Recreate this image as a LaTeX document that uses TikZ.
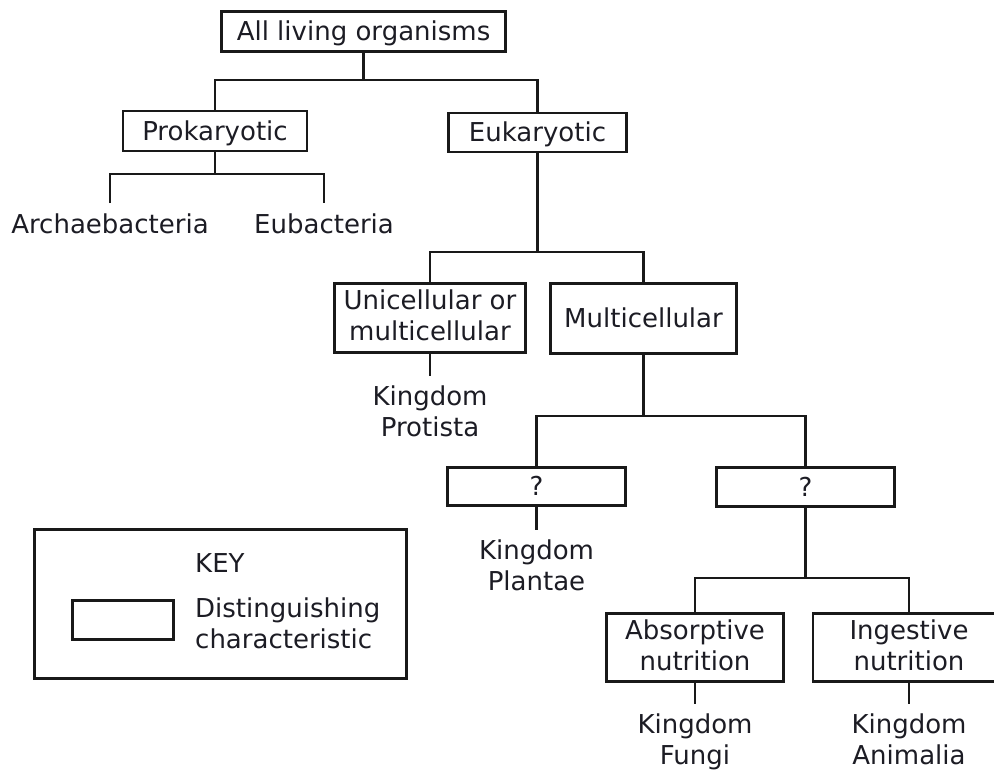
\documentclass[tikz,border=0pt]{standalone}
\usepackage{fontspec}
\setmainfont{DejaVu Sans}
\definecolor{ink}{RGB}{28,28,36}
\definecolor{linec}{RGB}{25,25,25}
\newcommand{\oneL}[1]{\rule{0pt}{18pt}\smash{#1}}
\newcommand{\twoL}[2]{\rule{0pt}{14pt}\smash{#1}\\\smash{#2}}
\newcommand{\leafL}[2]{\smash{#1}\\\smash{#2}}
\tikzset{
  box/.style={draw=linec, line width=2.8pt, inner sep=0pt, align=center, text=ink,
    font=\fontsize{26}{31}\selectfont},
  leaf/.style={inner sep=0pt, align=center, text=ink, font=\fontsize{26}{31}\selectfont},
  link/.style={draw=linec, line width=2.6pt},
}
\begin{document}
\begin{tikzpicture}[x=1pt,y=-1pt]
\useasboundingbox (0,0) rectangle (994,774);
\clip (0,0) rectangle (994,774);
% boxes
\node[box, minimum width=284pt, minimum height=40pt] (all) at (363.5,31.5) {\oneL{All living organisms}};
\node[box, minimum width=184pt, minimum height=40pt] (prok) at (215,131) {\oneL{Prokaryotic}};
\node[box, minimum width=178pt, minimum height=39pt] (euk) at (537.5,132.5) {\oneL{Eukaryotic}};
\node[box, minimum width=191pt, minimum height=69pt] (uni) at (430,318) {\twoL{Unicellular or}{multicellular}};
\node[box, minimum width=186pt, minimum height=70pt] (multi) at (643.5,318.5) {\oneL{Multicellular}};
\node[box, minimum width=178pt, minimum height=38pt] (q1) at (536.5,486.5) {\oneL{?}};
\node[box, minimum width=178pt, minimum height=39pt] (q2) at (805.5,487) {\oneL{?}};
\node[box, minimum width=177pt, minimum height=68pt] (abs) at (695,647.5) {\twoL{Absorptive}{nutrition}};
\node[box, minimum width=200pt, minimum height=68pt] (ing) at (913,647.5) {};
\node[leaf] (ingt) at (909,647.5) {\twoL{Ingestive}{nutrition}};
% leaves
\node[leaf, anchor=north] (arch) at (110,233) {\smash{Archaebacteria}};
\node[leaf, anchor=north] (eub) at (324,233) {\smash{Eubacteria}};
\node[leaf, anchor=north] (prot) at (430,405) {\leafL{Kingdom}{Protista}};
\node[leaf, anchor=north] (plan) at (536.5,559) {\leafL{Kingdom}{Plantae}};
\node[leaf, anchor=north] (fung) at (695,733) {\leafL{Kingdom}{Fungi}};
\node[leaf, anchor=north] (anim) at (909,733) {\leafL{Kingdom}{Animalia}};
% junctions
\coordinate (j1) at (363.5,80);
\coordinate (j2) at (215,174);
\coordinate (j3) at (537.5,252);
\coordinate (j4) at (643.5,416);
\coordinate (j5) at (805.5,578);
% connectors
\draw[link] (all.south) -- (j1);
\draw[link] (prok.north) |- (j1) -| (euk.north);
\draw[link] (prok.south) -- (j2);
\draw[link] ([yshift=30pt]arch.north) |- (j2) -| ([yshift=30pt]eub.north);
\draw[link] (euk.south) -- (j3);
\draw[link] (uni.north) |- (j3) -| (multi.north);
\draw[link] (uni.south) -- ([yshift=29pt]prot.north);
\draw[link] (multi.south) -- (j4);
\draw[link] (q1.north) |- (j4) -| (q2.north);
\draw[link] (q1.south) -- ([yshift=29pt]plan.north);
\draw[link] (q2.south) -- (j5);
\draw[link] (abs.north) |- (j5) -| (ing.north -| anim.north);
\draw[link] (abs.south) -- ([yshift=29pt]fung.north);
\draw[link] (ing.south -| anim.north) -- ([yshift=29pt]anim.north);
% key
\node[draw=linec, line width=2.8pt, minimum width=372pt, minimum height=149pt, inner sep=0pt] (key) at (220.5,604) {};
\node[draw=linec, line width=2.8pt, minimum width=101pt, minimum height=39pt, inner sep=0pt] (keyb) at (123,620) {};
\node[leaf, anchor=north west] (keyt) at (195,572) {\smash{KEY}};
\node[leaf, anchor=north west, align=left] (keyd) at (195,617) {\leafL{Distinguishing}{characteristic}};
\end{tikzpicture}
\end{document}
